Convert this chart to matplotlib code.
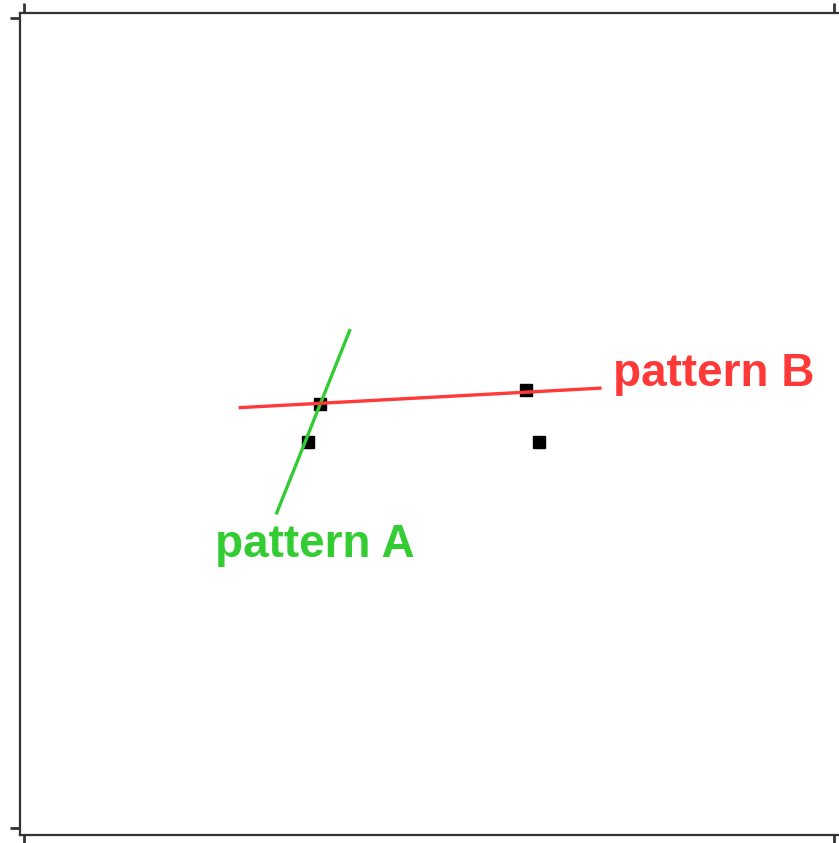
import matplotlib
matplotlib.use("Agg")
import matplotlib.pyplot as plt

# data
pts_x = [0.365, 0.351, 0.620, 0.636]
pts_y = [0.523, 0.477, 0.541, 0.477]
lineA_x = [0.312, 0.402]
lineA_y = [0.389, 0.614]
lineB_x = [0.267, 0.711]
lineB_y = [0.519, 0.543]
labels = ["pattern A", "pattern B"]
label_x = [0.236, 0.727]
label_y = [0.335, 0.546]
ticks = [0, 1]

W, H = 839, 843
fig = plt.figure(figsize=(W / 100, H / 100), dpi=100)
ax = fig.add_axes([20 / W, 1 - 835 / H, (841 - 20) / W, (835 - 13) / H])

ax.plot(pts_x, pts_y, linestyle="none", marker="s", markersize=8.5,
        color="black", zorder=2)
ax.plot(lineA_x, lineA_y, color="#33cc33", lw=2.4, zorder=3)
ax.plot(lineB_x, lineB_y, color="#ff3838", lw=2.4, zorder=3)

colors = ["#33cc33", "#ff3838"]
for t, x, y, c in zip(labels, label_x, label_y, colors):
    ax.text(x, y, t, color=c, fontsize=33, fontweight="bold",
            family="Liberation Sans", ha="left", va="baseline", zorder=4)

ax.set_xlim(-4 / 810, 1 + 7 / 810)
ax.set_ylim(-7 / 810, 1 + 5 / 810)
ax.set_xticks(ticks)
ax.set_yticks(ticks)
ax.tick_params(axis="both", direction="out", length=7, width=2, color="#333333",
               labelbottom=False, labelleft=False, top=True, right=False)
for s in ax.spines.values():
    s.set_linewidth(1.6)
    s.set_color("#333333")

fig.savefig("out.png", dpi=100)
